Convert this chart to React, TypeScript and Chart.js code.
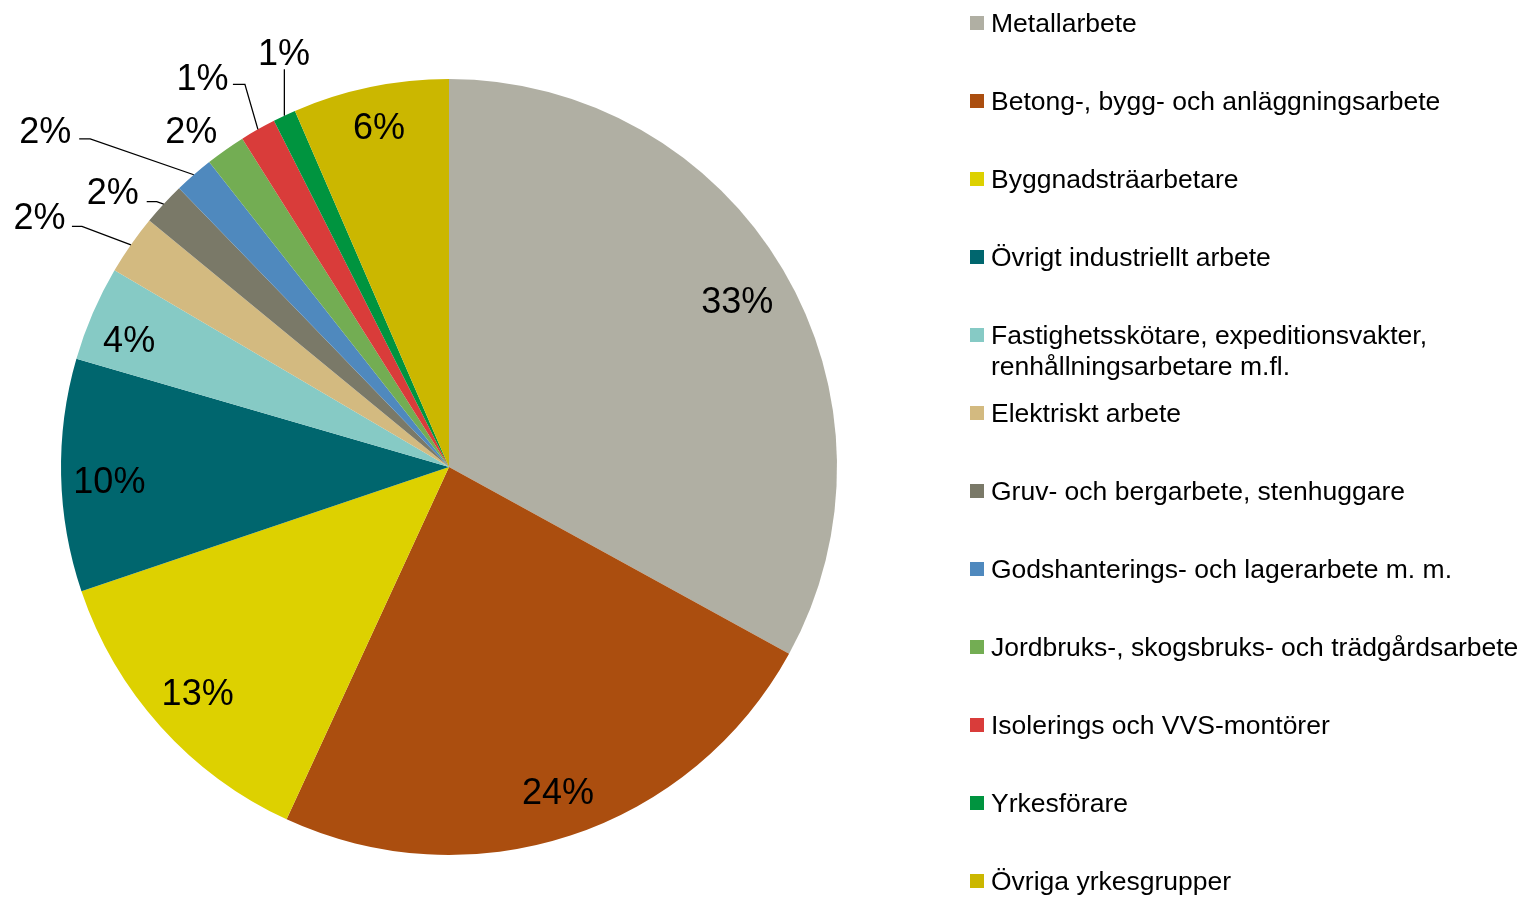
import React, { useEffect, useRef } from 'react';
import { Chart, registerables } from 'chart.js';

Chart.register(...registerables);

const categories = [
  'Metallarbete',
  'Betong-, bygg- och anläggningsarbete',
  'Byggnadsträarbetare',
  'Övrigt industriellt arbete',
  'Fastighetsskötare, expeditionsvakter, renhållningsarbetare m.fl.',
  'Elektriskt arbete',
  'Gruv- och bergarbete, stenhuggare',
  'Godshanterings- och lagerarbete m. m.',
  'Jordbruks-, skogsbruks- och trädgårdsarbete',
  'Isolerings och VVS-montörer',
  'Yrkesförare',
  'Övriga yrkesgrupper',
];

const shares = [32.95, 23.85, 12.92, 9.68, 3.95, 2.49, 1.8, 1.64, 1.66, 1.49, 0.95, 6.49];

const colors = [
  '#B0AFA3',
  '#AB4E0F',
  '#DDD100',
  '#00666E',
  '#86CAC5',
  '#D3BA80',
  '#7A7968',
  '#4F89BE',
  '#73AD53',
  '#D93C3A',
  '#00943F',
  '#CBB700',
];

// Inside labels: radius factor and angular nudge (deg) relative to slice middle
type Inside = { r: number; da: number } | null;
const insidePlacement: Inside[] = [
  { r: 0.859, da: 0.5 },
  { r: 0.881, da: -0.36 },
  { r: 0.869, da: 0.17 },
  { r: 0.876, da: -0.96 },
  { r: 0.888, da: -1.52 },
  null,
  null,
  null,
  null,
  null,
  null,
  { r: 0.898, da: 0.1 },
];

// Outside labels: offsets (px) relative to the slice's outer edge point, with leader lines
type Place = { tx: number; ty: number; line?: number[][] } | null;
const labelPlacement: Place[] = [
  null,
  null,
  null,
  null,
  null,
  { tx: -91.5, ty: -28.8, line: [[-49, -18.4], [-59, -18.4]] },
  { tx: -50.9, ty: -13.3, line: [[-7, -2.4], [-17, -2.4]] },
  { tx: -148.6, ty: -44.6, line: [[-103.6, -35.9], [-114.6, -35.9]] },
  { tx: -34.1, ty: -19.6 },
  { tx: -55.5, ty: -52.6, line: [[-13, -45], [-25, -45]] },
  { tx: -0.3, ty: -63.2, line: [[0, -46.4]] },
  null,
];

const FONT = '"Liberation Sans", Arial, sans-serif';
const LABEL_SIZE = 36;
const LEGEND_SIZE = 26.5;

function drawCenteredText(ctx: CanvasRenderingContext2D, text: string, cx: number, cy: number, size: number) {
  ctx.save();
  ctx.font = `${size}px ${FONT}`;
  ctx.fillStyle = '#000';
  ctx.textAlign = 'center';
  ctx.textBaseline = 'alphabetic';
  ctx.fillText(text, cx, cy + size * 0.358);
  ctx.restore();
}

const labelPlugin = {
  id: 'pieLabels',
  afterDraw(chart: any) {
    const ctx: CanvasRenderingContext2D = chart.ctx;
    const meta = chart.getDatasetMeta(0);
    const data: number[] = chart.data.datasets[0].data;
    const total = data.reduce((a, b) => a + b, 0);
    meta.data.forEach((arc: any, i: number) => {
      const { x, y, startAngle, endAngle, outerRadius } = arc.getProps(
        ['x', 'y', 'startAngle', 'endAngle', 'outerRadius'],
        true
      );
      const mid = (startAngle + endAngle) / 2;
      const pct = Math.round((data[i] / total) * 100) + '%';
      const inside = insidePlacement[i];
      const place = labelPlacement[i];
      if (inside) {
        const r = outerRadius * inside.r;
        const a = mid + (inside.da * Math.PI) / 180;
        drawCenteredText(ctx, pct, x + r * Math.cos(a), y + r * Math.sin(a), LABEL_SIZE);
      } else if (place) {
        const ex = x + outerRadius * Math.cos(mid);
        const ey = y + outerRadius * Math.sin(mid);
        if (place.line) {
          ctx.save();
          ctx.strokeStyle = '#000';
          ctx.lineWidth = 1.3;
          ctx.beginPath();
          ctx.moveTo(ex, ey);
          place.line.forEach((p) => ctx.lineTo(ex + p[0], ey + p[1]));
          ctx.stroke();
          ctx.restore();
        }
        drawCenteredText(ctx, pct, ex + place.tx, ey + place.ty, LABEL_SIZE);
      }
    });

    // Legend
    const legX = 970;
    const textX = 991;
    const firstY = 23;
    const step = 78.0;
    const maxW = 530;
    ctx.save();
    ctx.font = `${LEGEND_SIZE}px ${FONT}`;
    categories.forEach((label, i) => {
      const cy = firstY + i * step;
      ctx.fillStyle = colors[i];
      ctx.fillRect(legX, cy - 7, 14, 14);
      const words = label.split(' ');
      const lines: string[] = [];
      let cur = '';
      words.forEach((w) => {
        const test = cur ? cur + ' ' + w : w;
        if (ctx.measureText(test).width > maxW && cur) {
          lines.push(cur);
          cur = w;
        } else {
          cur = test;
        }
      });
      if (cur) lines.push(cur);
      ctx.fillStyle = '#000';
      ctx.textAlign = 'left';
      ctx.textBaseline = 'alphabetic';
      lines.forEach((ln, k) => {
        ctx.fillText(ln, textX, cy + LEGEND_SIZE * 0.358 + k * 30.5);
      });
    });
    ctx.restore();
  },
};

export default function App() {
  const canvasRef = useRef<HTMLCanvasElement | null>(null);

  useEffect(() => {
    if (!canvasRef.current) return;
    const chart = new Chart(canvasRef.current, {
      type: 'pie',
      data: {
        labels: categories,
        datasets: [
          {
            data: shares,
            backgroundColor: colors,
            borderWidth: 0,
            hoverOffset: 0,
          },
        ],
      },
      options: {
        responsive: false,
        animation: false,
        events: [],
        layout: {
          padding: { left: 61, top: 79, right: 687, bottom: 42 },
        },
        plugins: {
          legend: { display: false },
          tooltip: { enabled: false },
          title: { display: false },
        },
      },
      plugins: [labelPlugin],
    });
    return () => chart.destroy();
  }, []);

  return (
    <div style={{ position: 'absolute', left: 0, top: 0, width: 1524, height: 897, background: '#fff' }}>
      <canvas ref={canvasRef} width={1524} height={897} style={{ display: 'block' }} />
    </div>
  );
}
